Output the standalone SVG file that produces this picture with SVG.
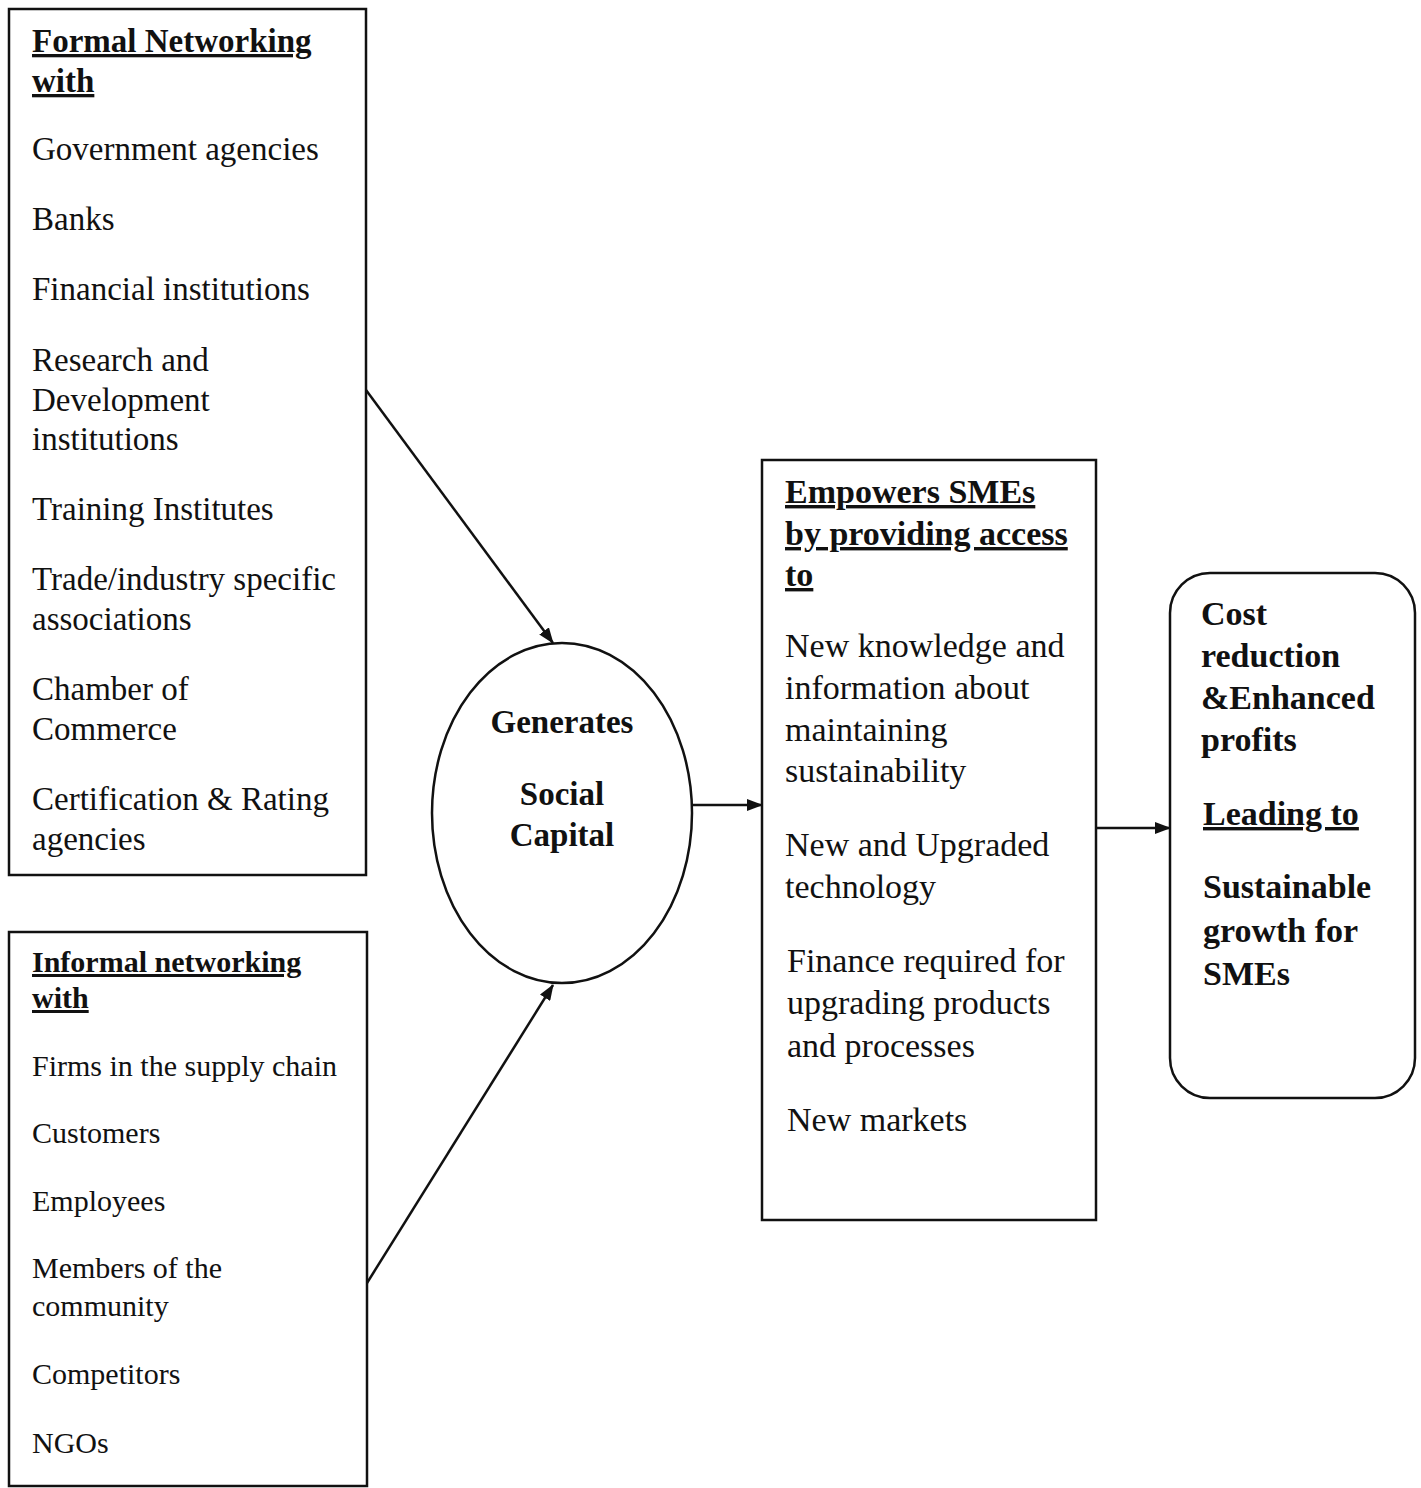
<svg xmlns="http://www.w3.org/2000/svg" width="1421" height="1488" viewBox="0 0 1421 1488">
<defs>
<style>
.box{fill:none;stroke:#111;stroke-width:2.5}
.t{font-family:"Liberation Serif","Times New Roman",serif;font-size:33px;fill:#111}
.m{font-family:"Liberation Serif","Times New Roman",serif;font-size:34px;fill:#111}
.s{font-family:"Liberation Serif","Times New Roman",serif;font-size:30px;fill:#111}
.b{font-family:"Liberation Serif","Times New Roman",serif;font-size:33px;font-weight:bold;fill:#111}
.bm{font-family:"Liberation Serif","Times New Roman",serif;font-size:34px;font-weight:bold;fill:#111}
.bs{font-family:"Liberation Serif","Times New Roman",serif;font-size:30px;font-weight:bold;fill:#111}
.u{text-decoration:underline}
.c{text-anchor:middle}
.ln{fill:none;stroke:#111;stroke-width:2.5}
</style>
<marker id="ah" markerWidth="16" markerHeight="12" refX="15" refY="6" orient="auto" markerUnits="userSpaceOnUse">
<path d="M0,0 L16,6 L0,12 Z" fill="#111"/>
</marker>
</defs>
<rect width="1421" height="1488" fill="#fff"/>
<g id="formal">
<rect class="box" x="9" y="9" width="357" height="866"/>
<text class="b u" x="32" y="52">Formal Networking</text>
<text class="b u" x="32" y="92">with</text>
<text class="t" x="32" y="160">Government agencies</text>
<text class="t" x="32" y="230">Banks</text>
<text class="t" x="32" y="300">Financial institutions</text>
<text class="t" x="32" y="371">Research and</text>
<text class="t" x="32" y="411">Development</text>
<text class="t" x="32" y="450">institutions</text>
<text class="t" x="32" y="520">Training Institutes</text>
<text class="t" x="32" y="590">Trade/industry specific</text>
<text class="t" x="32" y="630">associations</text>
<text class="t" x="32" y="700">Chamber of</text>
<text class="t" x="32" y="740">Commerce</text>
<text class="t" x="32" y="810">Certification &amp; Rating</text>
<text class="t" x="32" y="850">agencies</text>
</g>
<g id="informal">
<rect class="box" x="9" y="932" width="358" height="554"/>
<text class="bs u" x="32" y="972">Informal networking</text>
<text class="bs u" x="32" y="1008">with</text>
<text class="s" x="32" y="1076">Firms in the supply chain</text>
<text class="s" x="32" y="1143">Customers</text>
<text class="s" x="32" y="1211">Employees</text>
<text class="s" x="32" y="1278">Members of the</text>
<text class="s" x="32" y="1316">community</text>
<text class="s" x="32" y="1384">Competitors</text>
<text class="s" x="32" y="1453">NGOs</text>
</g>
<g id="social">
<ellipse class="box" cx="562" cy="813" rx="130" ry="170"/>
<text class="b c" x="562" y="733">Generates</text>
<text class="b c" x="562" y="805">Social</text>
<text class="b c" x="562" y="846">Capital</text>
</g>
<g id="empowers">
<rect class="box" x="762" y="460" width="334" height="760"/>
<text class="bm u" x="785" y="503">Empowers SMEs</text>
<text class="bm u" x="785" y="545">by providing access</text>
<text class="bm u" x="785" y="586">to</text>
<text class="m" x="785" y="657">New knowledge and</text>
<text class="m" x="785" y="699">information about</text>
<text class="m" x="785" y="741">maintaining</text>
<text class="m" x="785" y="782">sustainability</text>
<text class="m" x="785" y="856">New and Upgraded</text>
<text class="m" x="785" y="898">technology</text>
<text class="m" x="787" y="972">Finance required for</text>
<text class="m" x="787" y="1014">upgrading products</text>
<text class="m" x="787" y="1057">and processes</text>
<text class="m" x="787" y="1131">New markets</text>
</g>
<g id="outcome">
<rect class="box" x="1170" y="573" width="245" height="525" rx="40" ry="40"/>
<text class="bm" x="1201" y="625">Cost</text>
<text class="bm" x="1201" y="667">reduction</text>
<text class="bm" x="1201" y="709">&amp;Enhanced</text>
<text class="bm" x="1201" y="751">profits</text>
<text class="bm u" x="1203" y="825">Leading to</text>
<text class="bm" x="1203" y="898">Sustainable</text>
<text class="bm" x="1203" y="942">growth for</text>
<text class="bm" x="1203" y="985">SMEs</text>
</g>
<g id="connectors">
<line class="ln" x1="366" y1="390" x2="553" y2="643" marker-end="url(#ah)"/>
<line class="ln" x1="367" y1="1283" x2="553" y2="985" marker-end="url(#ah)"/>
<line class="ln" x1="692" y1="805" x2="762" y2="805" marker-end="url(#ah)"/>
<line class="ln" x1="1096" y1="828" x2="1170" y2="828" marker-end="url(#ah)"/>
</g>
</svg>
